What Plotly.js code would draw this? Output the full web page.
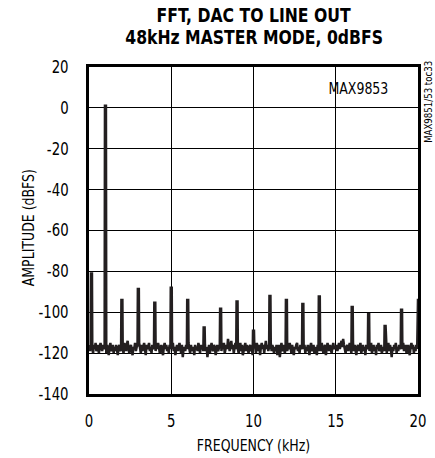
<!DOCTYPE html>
<html>
<head>
<meta charset="utf-8">
<script src="https://cdn.plot.ly/plotly-3.0.1.min.js"></script>
<style>
html,body{margin:0;padding:0;background:#fff;}
#chart{width:435px;height:458px;}
#chart text{font-stretch:condensed !important;}
</style>
</head>
<body>
<div id="chart"></div>
<script>
// Data
var titleLine1 = "FFT, DAC TO LINE OUT";
var titleLine2 = "48kHz MASTER MODE, 0dBFS";
var xTitle = "FREQUENCY (kHz)";
var yTitle = "AMPLITUDE (dBFS)";
var partLabel = "MAX9853";
var tocLabel = "MAX9851/53 toc33";

var xTickVals = [0, 5, 10, 15, 20];
var xTickText = ["0", "5", "10", "15", "20"];
var yTickVals = [20, 0, -20, -40, -60, -80, -100, -120, -140];
var yTickText = ["20", "0", "-20", "-40", "-60", "-80", "-100", "-120", "-140"];

// Noise floor, one value every 0.05 kHz from 0 to 20 kHz (dBFS), one row per kHz
var noiseStepKHz = 0.05;
var noiseLevels = [
  -116,-119,-117,-115,-118,-120,-116,-118,-115,-119,-117,-116,-120,-118,-115,-117,-119,-116,-118,-117,
  -117,-120,-116,-118,-121,-117,-115,-119,-118,-116,-120,-117,-119,-116,-118,-121,-117,-116,-119,-118,
  -116,-118,-120,-115,-117,-119,-116,-114,-118,-120,-117,-116,-119,-121,-117,-118,-115,-119,-117,-116,
  -118,-115,-117,-120,-116,-119,-117,-115,-118,-121,-116,-118,-117,-115,-119,-117,-120,-116,-118,-117,
  -117,-119,-116,-118,-115,-117,-120,-118,-116,-119,-121,-117,-115,-118,-116,-119,-117,-120,-116,-118,
  -116,-118,-115,-119,-117,-121,-118,-116,-119,-117,-115,-118,-120,-116,-122,-118,-117,-119,-116,-118,
  -117,-115,-118,-120,-116,-119,-117,-118,-121,-116,-118,-117,-119,-115,-117,-120,-116,-118,-117,-119,
  -118,-116,-119,-117,-122,-118,-116,-120,-117,-115,-118,-119,-116,-117,-121,-118,-116,-119,-117,-116,
  -117,-119,-116,-118,-115,-120,-117,-116,-118,-113,-116,-119,-117,-114,-118,-116,-120,-117,-115,-118,
  -116,-118,-120,-117,-115,-119,-116,-121,-118,-117,-115,-119,-116,-118,-120,-117,-116,-119,-118,-121,
  -118,-116,-117,-120,-115,-118,-119,-116,-121,-117,-115,-118,-116,-120,-117,-114,-118,-116,-119,-117,
  -117,-115,-119,-116,-118,-120,-117,-119,-116,-121,-118,-116,-122,-117,-115,-119,-117,-116,-120,-118,
  -116,-119,-117,-118,-115,-117,-120,-116,-119,-121,-117,-118,-116,-115,-119,-117,-120,-116,-118,-117,
  -115,-118,-116,-120,-117,-119,-116,-118,-121,-117,-115,-119,-117,-116,-120,-118,-117,-121,-116,-119,
  -117,-116,-119,-115,-118,-120,-117,-116,-121,-118,-115,-117,-119,-116,-118,-120,-117,-115,-118,-117,
  -118,-116,-119,-117,-115,-118,-116,-114,-117,-113,-116,-118,-120,-117,-116,-119,-117,-115,-118,-120,
  -117,-115,-119,-116,-118,-121,-117,-116,-119,-117,-115,-120,-118,-116,-119,-117,-121,-116,-118,-117,
  -116,-119,-117,-115,-120,-118,-116,-119,-117,-121,-116,-118,-115,-119,-117,-116,-120,-118,-117,-119,
  -118,-116,-120,-117,-115,-119,-116,-118,-122,-117,-119,-116,-118,-115,-120,-117,-119,-116,-118,-117,
  -116,-118,-115,-119,-117,-116,-120,-118,-116,-119,-121,-117,-115,-118,-116,-120,-117,-119,-116,-118,
  -117
];

// Spectral peaks: DC leakage, fundamental (1 kHz) and harmonics
var peakFreqs  = [0.15, 1, 2, 3, 4, 5, 6, 7, 8, 9, 10, 11, 12, 13, 14, 16, 17, 18, 19, 20];
var peakLevels = [-81, 1, -94, -88.6, -95.4, -88, -94, -107.5, -98.3, -94.7, -109, -92, -94, -96, -92.3, -97.4, -101, -106.7, -98.8, -93.4];

// Build the trace from the arrays above
var pts = [];
for (var i = 0; i < noiseLevels.length; i++) {
  var f = Math.round(i * noiseStepKHz * 1000) / 1000;
  var onPeak = peakFreqs.some(function (p) { return Math.abs(p - f) < 1e-6; });
  if (!onPeak) pts.push([f, noiseLevels[i]]);
}
var halfW = 0.03;
for (var j = 0; j < peakFreqs.length; j++) {
  pts.push([Math.max(0, peakFreqs[j] - halfW), peakLevels[j]]);
  pts.push([Math.min(20, peakFreqs[j] + halfW), peakLevels[j]]);
}
pts.sort(function (a, b) { return a[0] - b[0]; });
var xs = pts.map(function (p) { return p[0]; });
var ys = pts.map(function (p) { return p[1]; });

var narrow = "'DejaVu Sans Condensed', 'DejaVu Sans', sans-serif";
var ink = "#231f20";

var trace = {
  x: xs, y: ys, type: "scatter", mode: "lines",
  line: { color: ink, width: 2.5 },
  hoverinfo: "skip"
};

function py(p) { return (394 - p) / 327; }
function px(p) { return (p - 89) / 329; }

var layout = {
  width: 435, height: 458,
  margin: { l: 89, r: 17, t: 67, b: 64, pad: 0 },
  paper_bgcolor: "#fff", plot_bgcolor: "#fff",
  showlegend: false,
  font: { family: narrow, color: "#000", size: 16 },
  xaxis: {
    range: [0, 20], tickmode: "array", tickvals: xTickVals, ticktext: xTickText,
    showgrid: true, gridcolor: "#000", gridwidth: 1, zeroline: false,
    showline: true, linecolor: "#000", linewidth: 3, mirror: true,
    ticks: "", ticklabelstandoff: 10,
    tickfont: { family: narrow, size: 17, color: "#000" },
    title: { text: xTitle, font: { family: narrow, size: 16, color: "#000" }, standoff: 10 },
    fixedrange: true
  },
  yaxis: {
    range: [-140, 20], tickmode: "array", tickvals: yTickVals, ticktext: yTickText,
    showgrid: true, gridcolor: "#000", gridwidth: 1, zeroline: false,
    showline: true, linecolor: "#000", linewidth: 3, mirror: true,
    ticks: "", ticklabelstandoff: 14,
    tickfont: { family: narrow, size: 17, color: "#000" },
    fixedrange: true
  },
  annotations: [
    { text: "<b>" + titleLine1 + "</b>", xref: "paper", yref: "paper", x: 0.5, y: py(15), xanchor: "center", yanchor: "middle",
      showarrow: false, font: { family: narrow, size: 20, color: "#000" } },
    { text: "<b>" + titleLine2 + "</b>", xref: "paper", yref: "paper", x: 0.5, y: py(37), xanchor: "center", yanchor: "middle",
      showarrow: false, font: { family: narrow, size: 20, color: "#000" } },
    { text: yTitle, xref: "paper", yref: "paper", x: px(28), y: py(228), xanchor: "center", yanchor: "middle",
      textangle: -90, showarrow: false, font: { family: narrow, size: 16, color: "#000" } },
    { text: partLabel, xref: "paper", yref: "paper", x: px(395), y: py(89), xanchor: "right", yanchor: "middle",
      showarrow: false, font: { family: narrow, size: 16, color: "#000" } },
    { text: tocLabel, xref: "paper", yref: "paper", x: px(428), y: py(102), xanchor: "center", yanchor: "middle",
      textangle: -90, showarrow: false, font: { family: narrow, size: 11, color: "#000" } }
  ]
};

// Narrow the glyphs a little (reference uses a condensed face); text stays real text
function condense(gd) {
  var texts = gd.querySelectorAll("svg text");
  texts.forEach(function (t) {
    var len = t.getComputedTextLength();
    if (len > 0) {
      t.setAttribute("textLength", (len * 0.87).toFixed(2));
      t.setAttribute("lengthAdjust", "spacingAndGlyphs");
    }
  });
}

Plotly.newPlot("chart", [trace], layout, { staticPlot: true, displayModeBar: false })
  .then(function (gd) { condense(gd); });
</script>
</body>
</html>
